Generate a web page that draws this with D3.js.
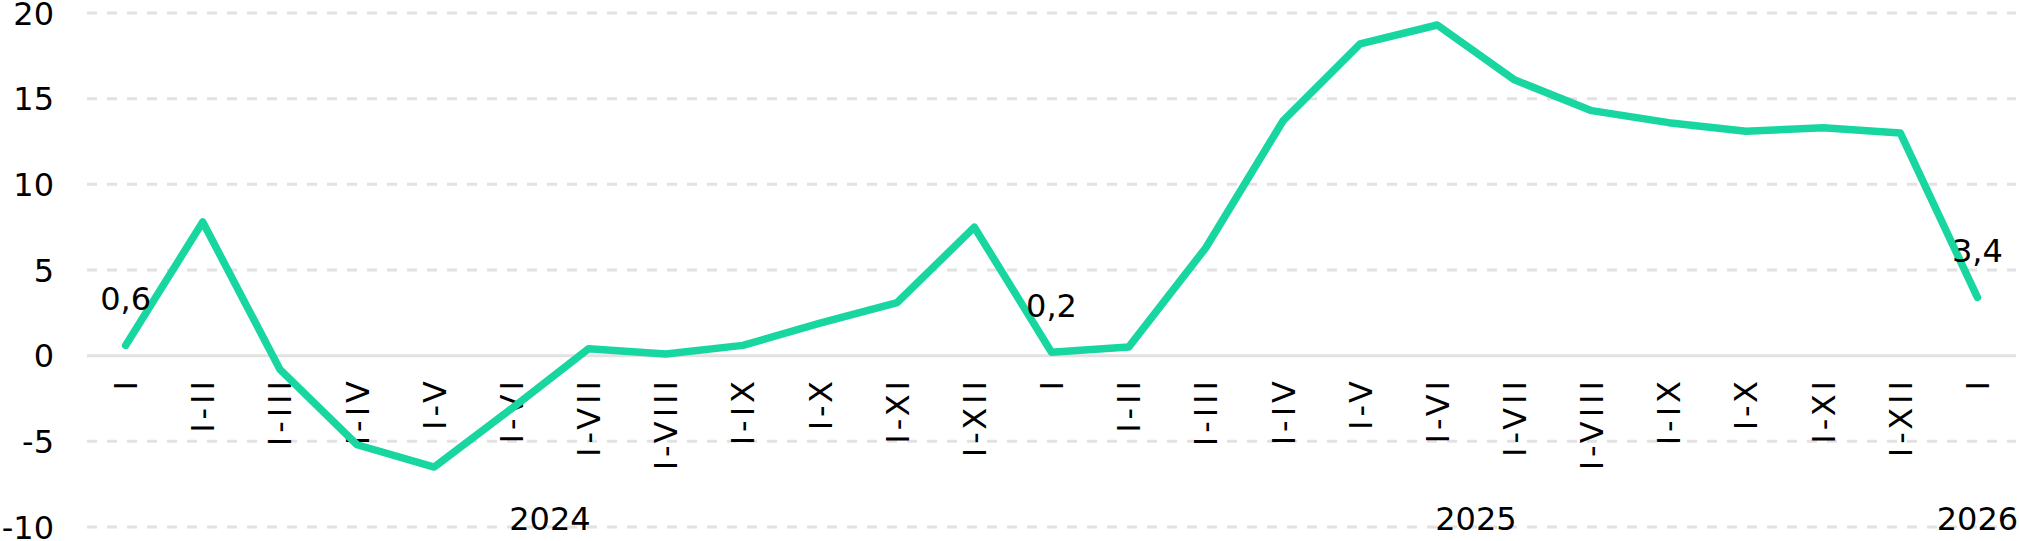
<!DOCTYPE html>
<html>
<head>
<meta charset="utf-8">
<script src="https://cdn.jsdelivr.net/npm/d3@7/dist/d3.min.js"></script>
<style>
  body { margin: 0; background: #fff; }
  svg { display: block; font-family: "DejaVu Sans", Verdana, sans-serif; }
</style>
</head>
<body>
<div id="chart"></div>
<script>
// periods (cumulative months), one per point
const periods = [
  "I", "I-II", "I-III", "I-IV", "I-V", "I-VI", "I-VII", "I-VIII", "I-IX", "I-X", "I-XI", "I-XII",
  "I", "I-II", "I-III", "I-IV", "I-V", "I-VI", "I-VII", "I-VIII", "I-IX", "I-X", "I-XI", "I-XII",
  "I"
];
const years = ["2024", "2025", "2026"];
const yearSizes = [12, 12, 1];

const values = [
  0.6, 7.8, -0.8, -5.2, -6.5, -3.1, 0.4, 0.1, 0.6, 1.9, 3.1, 7.5,
  0.2, 0.5, 6.3, 13.7, 18.2, 19.3, 16.1, 14.3, 13.6, 13.1, 13.3, 13.0,
  3.4
];
const labelled = [0, 12, 24];
const yTicks = [-10, -5, 0, 5, 10, 15, 20];

const width = 2019, height = 541;
const fontSize = 32;

const svg = d3.select("#chart").append("svg")
  .attr("width", width)
  .attr("height", height);

const x = d3.scaleBand()
  .domain(d3.range(periods.length))
  .range([87, 2016]);

const y = d3.scaleLinear()
  .domain([-10, 20])
  .range([527, 13]);

const cx = i => x(i) + x.bandwidth() / 2;

// grid
svg.append("g")
  .selectAll("line")
  .data(yTicks)
  .enter()
  .append("line")
  .attr("x1", x.range()[0])
  .attr("x2", x.range()[1])
  .attr("y1", d => y(d))
  .attr("y2", d => y(d))
  .attr("stroke", "#e2e2e2")
  .attr("stroke-width", 3)
  .attr("stroke-dasharray", d => d === 0 ? null : "10,10");

// y labels
svg.append("g")
  .selectAll("text")
  .data(yTicks)
  .enter()
  .append("text")
  .attr("x", 54)
  .attr("y", d => y(d))
  .attr("dy", "0.36em")
  .attr("text-anchor", "end")
  .attr("font-size", fontSize)
  .attr("fill", "#000")
  .text(d => d);

// x labels, rotated
const ls = 4;
svg.append("g")
  .selectAll("text")
  .data(periods)
  .enter()
  .append("text")
  .attr("transform", (d, i) => "translate(" + cx(i) + "," + (381 - ls) + ") rotate(-90)")
  .attr("dy", "0.36em")
  .attr("text-anchor", "end")
  .attr("font-size", fontSize)
  .attr("letter-spacing", ls)
  .attr("fill", "#000")
  .text(d => d);

// year labels under each group
let start = 0;
years.forEach((yr, k) => {
  const end = start + yearSizes[k] - 1;
  svg.append("text")
    .attr("x", (cx(start) + cx(end)) / 2)
    .attr("y", 530)
    .attr("text-anchor", "middle")
    .attr("font-size", fontSize)
    .attr("fill", "#000")
    .text(yr);
  start = end + 1;
});

// line
const line = d3.line()
  .x((d, i) => cx(i))
  .y(d => y(d));

svg.append("path")
  .datum(values)
  .attr("d", line)
  .attr("fill", "none")
  .attr("stroke", "#18d6a0")
  .attr("stroke-width", 7.5)
  .attr("stroke-linejoin", "round")
  .attr("stroke-linecap", "round");

// value labels
svg.append("g")
  .selectAll("text")
  .data(labelled)
  .enter()
  .append("text")
  .attr("x", i => cx(i))
  .attr("y", i => y(values[i]) - 35)
  .attr("text-anchor", "middle")
  .attr("font-size", fontSize)
  .attr("fill", "#000")
  .text(i => String(values[i]).replace(".", ","));
</script>
</body>
</html>
